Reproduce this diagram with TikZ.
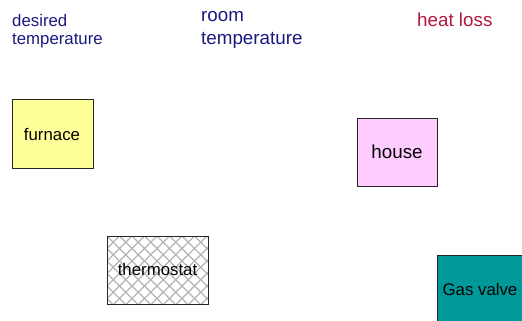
\documentclass[tikz,border=0pt]{standalone}
\usepackage{fontspec}
\setmainfont{Liberation Sans}
\definecolor{navytext}{HTML}{1A1A7E}
\definecolor{losscol}{HTML}{B0183C}
\definecolor{furnacefill}{HTML}{FFFF99}
\definecolor{housefill}{HTML}{FFCCFF}
\definecolor{valvefill}{HTML}{009999}
\definecolor{hatchcol}{HTML}{B4B4B4}
\tikzset{
  blockbox/.style={draw=black!85, line width=0.9pt, inner sep=0pt, anchor=north west},
  smalltext/.style={font=\fontsize{16.8}{18}\selectfont},
  bigtext/.style={font=\fontsize{18.8}{23}\selectfont},
  lbl/.style={inner sep=0pt, anchor=base west, align=left}
}
\begin{document}
\begin{tikzpicture}[x=1pt,y=-1pt]
\useasboundingbox (0,0) rectangle (522,321);
% labels
\node[lbl, smalltext, text=navytext] (desired) at (12,45) {desired\\temperature};
\node[lbl, bigtext, text=navytext] (room) at (201,45) {room\\temperature};
\node[lbl, bigtext, text=losscol] (loss) at (417,27) {heat loss};
% furnace
\node[blockbox, fill=furnacefill, minimum width=81pt, minimum height=69pt] (furnace) at (12,99) {};
\node[smalltext, inner sep=0pt, anchor=base] (furnacet) at (52,140) {furnace};
% house
\node[blockbox, fill=housefill, minimum width=80pt, minimum height=68pt] (house) at (357,118) {};
\node[bigtext, inner sep=0pt, anchor=base] (houset) at (397,158) {house};
% thermostat
\begin{scope}
\clip (107,236) rectangle (208,304);
\foreach \i in {-7,...,16} {
  \draw[hatchcol, line width=1.1pt] (107+\i*12.5,236) -- ++(68,68);
  \draw[hatchcol, line width=1.1pt] (107+\i*12.5,236) -- ++(-68,68);
}
\end{scope}
\node[blockbox, minimum width=101pt, minimum height=68pt] (thermo) at (107,236) {};
\node[smalltext, inner sep=0pt, anchor=base] (thermot) at (157.5,275) {thermostat};
% gas valve
\node[blockbox, fill=valvefill, minimum width=90pt, minimum height=70pt] (valve) at (437,255) {};
\node[smalltext, inner sep=0pt, anchor=base] (valvet) at (480,295) {Gas valve};
\end{tikzpicture}
\end{document}
